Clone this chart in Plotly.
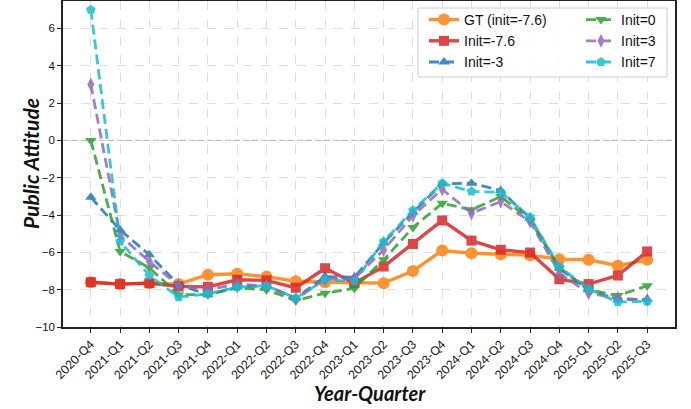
import plotly.graph_objects as go

quarters = ["2020-Q4", "2021-Q1", "2021-Q2", "2021-Q3", "2021-Q4",
            "2022-Q1", "2022-Q2", "2022-Q3", "2022-Q4",
            "2023-Q1", "2023-Q2", "2023-Q3", "2023-Q4",
            "2024-Q1", "2024-Q2", "2024-Q3", "2024-Q4",
            "2025-Q1", "2025-Q2", "2025-Q3"]

gt = [-7.6, -7.7, -7.65, -7.7, -7.2, -7.15, -7.3, -7.55, -7.6, -7.62,
      -7.65, -7.0, -5.9, -6.05, -6.1, -6.15, -6.37, -6.4, -6.72, -6.4]
init_m76 = [-7.6, -7.7, -7.65, -7.83, -7.85, -7.47, -7.5, -7.9, -6.85, -7.65,
            -6.76, -5.55, -4.29, -5.37, -5.86, -6.01, -7.44, -7.7, -7.24, -5.95]
init_m3 = [-3.05, -4.8, -6.13, -7.74, -8.27, -7.85, -7.79, -8.45, -7.3, -7.33,
           -5.5, -3.85, -2.33, -2.29, -2.69, -4.17, -6.85, -8.0, -8.54, -8.51]
init_0 = [0.0, -5.95, -6.83, -8.27, -8.27, -7.9, -8.01, -8.58, -8.19, -7.92,
          -6.4, -4.67, -3.37, -3.72, -3.01, -4.26, -6.85, -8.0, -8.31, -7.79]
init_3 = [3.0, -5.1, -6.49, -7.79, -8.0, -7.7, -7.8, -8.5, -7.45, -7.4,
          -5.87, -4.03, -2.62, -3.9, -3.28, -4.35, -7.11, -8.19, -8.45, -8.55]
init_7 = [7.0, -5.42, -7.24, -8.4, -8.22, -7.86, -7.79, -8.45, -7.47, -7.56,
          -5.42, -3.75, -2.29, -2.74, -2.78, -4.11, -6.76, -7.95, -8.67, -8.63]

series = [
    ("GT (init=-7.6)", gt, "#ff7f0e", "solid", "circle", 12, 3.4, "legend"),
    ("Init=-7.6", init_m76, "#d62728", "solid", "square", 10, 3.4, "legend"),
    ("Init=-3", init_m3, "#1f77b4", "10px,5px", "triangle-up", 10, 2.8, "legend"),
    ("Init=0", init_0, "#2ca02c", "10px,5px", "triangle-down", 10, 2.8, "legend2"),
    ("Init=3", init_3, "#9467bd", "10px,5px", "diamond-tall", 10, 2.8, "legend2"),
    ("Init=7", init_7, "#17becf", "10px,5px", "pentagon", 10, 2.8, "legend2"),
]

x_idx = list(range(len(quarters)))

L, R, T, B = 63, 675, 1, 327
W, H = 691, 409

fig = go.Figure()
for name, vals, color, dash, sym, msize, lw, leg in series:
    fig.add_trace(go.Scatter(
        x=x_idx, y=vals, name=name, mode="lines+markers",
        line=dict(color=color, width=lw, dash=dash),
        marker=dict(symbol=sym, size=msize, color=color),
        opacity=0.85, legend=leg,
    ))

# zero reference line
fig.add_shape(type="line", xref="paper", yref="y", x0=0, x1=1, y0=0, y1=0,
              line=dict(color="rgba(120,120,120,0.6)", width=1, dash="6px,3px"),
              layer="below")

pw, ph = R - L, B - T
# legend frame
fig.add_shape(type="rect", xref="paper", yref="paper",
              x0=(418 - L) / pw, x1=(667 - L) / pw,
              y0=(B - 77) / ph, y1=(B - 8) / ph,
              line=dict(color="#cccccc", width=1),
              fillcolor="rgba(255,255,255,0.85)", layer="above")

# axis titles
fig.add_annotation(text="<b><i>Public Attitude</i></b>", xref="paper", yref="paper",
                   x=(30 - L) / pw, y=(B - 164) / ph, textangle=-90, showarrow=False,
                   font=dict(family="Lato, Liberation Sans", size=21, color="#111"),
                   xanchor="center", yanchor="middle")
fig.add_annotation(text="<b><i>Year-Quarter</i></b>", xref="paper", yref="paper",
                   x=(370 - L) / pw, y=(B - 393) / ph, showarrow=False,
                   font=dict(family="Lato, Liberation Sans", size=20, color="#111"),
                   xanchor="center", yanchor="middle")

legfont = dict(family="Liberation Sans, Arial", size=14, color="#111")
fig.update_layout(
    width=W, height=H,
    margin=dict(l=L, r=W - R, t=T, b=H - B, autoexpand=False),
    paper_bgcolor="white", plot_bgcolor="white",
    showlegend=True,
    legend=dict(x=(424 - L) / pw, y=(B - 4) / ph, xanchor="left", yanchor="top",
                bgcolor="rgba(0,0,0,0)", font=legfont, tracegroupgap=0,
                itemwidth=30),
    legend2=dict(x=(581 - L) / pw, y=(B - 4) / ph, xanchor="left", yanchor="top",
                 bgcolor="rgba(0,0,0,0)", font=legfont, tracegroupgap=0,
                 itemwidth=30),
    xaxis=dict(
        range=[-0.95, 19.95], tickmode="array", tickvals=x_idx, ticktext=quarters,
        tickangle=-45, tickfont=dict(family="Lato, Liberation Sans", size=12, color="#111"),
        showgrid=True, gridcolor="rgba(200,200,200,0.6)", griddash="dash", gridwidth=1,
        ticks="outside", ticklen=4, tickcolor="#222",
        showline=True, linecolor="#222", linewidth=1.5, mirror=True,
        zeroline=False, automargin=False,
    ),
    yaxis=dict(
        range=[-10, 7.47], tickmode="array", tickvals=[-10, -8, -6, -4, -2, 0, 2, 4, 6],
        tickfont=dict(family="Liberation Sans, Arial", size=11.5, color="#111"),
        showgrid=True, gridcolor="rgba(200,200,200,0.6)", griddash="dash", gridwidth=1,
        ticks="outside", ticklen=4, tickcolor="#222",
        showline=True, linecolor="#222", linewidth=1.5, mirror=True,
        zeroline=False, automargin=False,
    ),
)

fig.write_html("out.html", config={"displayModeBar": False},
               post_script="document.body.style.margin='0px';document.body.style.padding='0px';")
